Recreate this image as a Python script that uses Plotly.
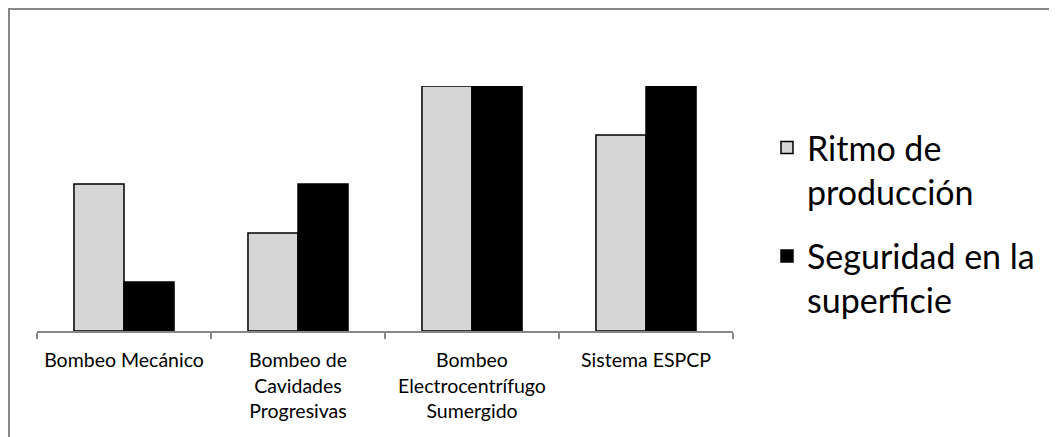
import plotly.graph_objects as go

categorias = ["Bombeo Mecánico", "Bombeo de<br>Cavidades<br>Progresivas",
              "Bombeo<br>Electrocentrífugo<br>Sumergido", "Sistema ESPCP"]
ritmo_produccion = [3, 2, 5, 4]
seguridad_superficie = [1, 3, 5, 5]

# page has an 8px body margin, so the figure is 16px smaller than the window
W, H = 1049, 429
ml, mr, mt, mb = 29, 324, 78, 106
pw = W - ml - mr
ph = H - mt - mb

fig = go.Figure()
fig.add_trace(go.Bar(x=categorias, y=ritmo_produccion, name="Ritmo de<br>producción",
                     marker=dict(color="#d6d6d6", line=dict(color="#000000", width=1.5)),
                     legendgroup="a"))
fig.add_trace(go.Bar(x=categorias, y=seguridad_superficie, name="Seguridad en la<br>superficie",
                     marker=dict(color="#000000", line=dict(color="#000000", width=1.5)),
                     legendgroup="b"))

# outer chart frame (cut off on the right and bottom)
fig.add_shape(type="rect", xref="paper", yref="paper",
              x0=(1 - ml) / pw, x1=(1070 - ml) / pw,
              y0=(H - mb - 450) / ph, y1=(H - mb - 1) / ph,
              line=dict(color="#878787", width=2), layer="below")

fig.update_layout(
    width=W, height=H,
    margin=dict(l=ml, r=mr, t=mt, b=mb),
    paper_bgcolor="white", plot_bgcolor="white",
    barmode="group", bargap=0.425, bargroupgap=0,
    font=dict(family="Lato", color="#000000"),
    showlegend=True,
    legend=dict(x=(759 - ml) / pw, xanchor="left", y=(H - mb - 111) / ph, yanchor="top",
                font=dict(size=34, family="Lato", color="#000000"),
                valign="top", tracegroupgap=17, bgcolor="rgba(0,0,0,0)"),
    xaxis=dict(showline=True, linecolor="#878787", linewidth=1.5,
               ticks="outside", tickson="boundaries", ticklen=6, tickcolor="#878787",
               tickwidth=1.5, ticklabelstandoff=11,
               tickfont=dict(size=19.5, family="Lato", color="#000000"),
               showgrid=False, zeroline=False, fixedrange=True),
    yaxis=dict(range=[0, 5], visible=False, showgrid=False, zeroline=False),
)

fig.write_html("out.html")
